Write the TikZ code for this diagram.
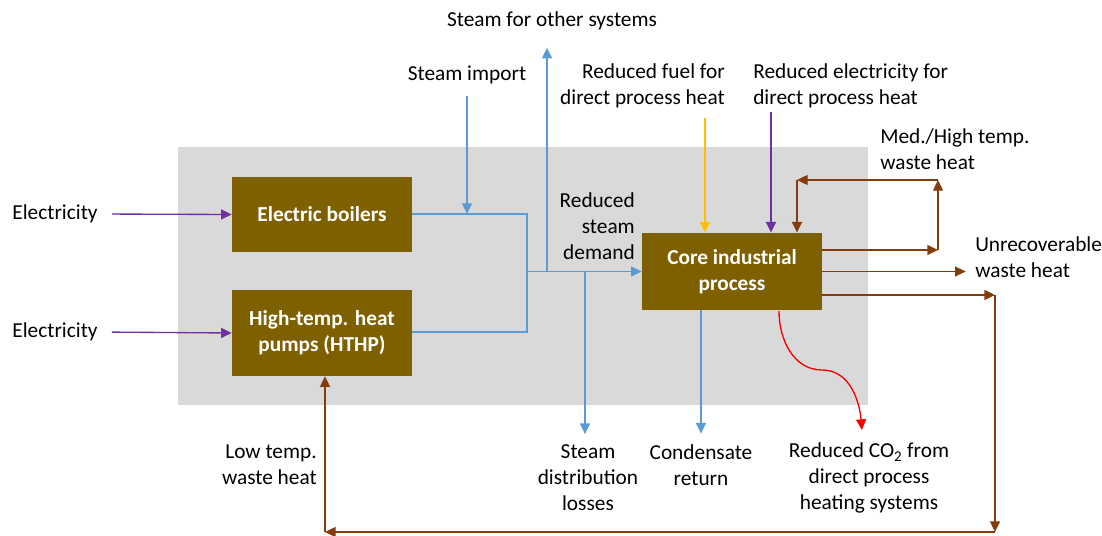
\documentclass[tikz,border=0pt]{standalone}
\usepackage{fontspec}
\setmainfont{Carlito}
\usetikzlibrary{arrows.meta}
\definecolor{boxbrown}{HTML}{7F6000}
\definecolor{bggrey}{HTML}{D9D9D9}
\definecolor{steamblue}{HTML}{5B9BD5}
\definecolor{elecpurple}{HTML}{7030A0}
\definecolor{wastebrown}{HTML}{843C0C}
\definecolor{fuelyellow}{HTML}{FFC000}
\tikzset{%
  >={Triangle[width=7.5pt,length=8pt]},
  % Specifications for style of nodes:
         base/.style = {rectangle, fill=boxbrown, text=white,
                        minimum width=135pt, align=center,
                        font=\bfseries},
          txt/.style = {inner sep=0pt, align=center},
  % Specifications for style of lines:
        steam/.style = {draw=steamblue, line width=1pt},
     elecline/.style = {draw=elecpurple, line width=1pt},
     fuelline/.style = {draw=fuelyellow, line width=1pt},
        waste/.style = {draw=wastebrown, line width=1pt},
      co2line/.style = {draw=red, line width=1pt},
}
\begin{document}
\fontsize{16}{19.5}\selectfont
\begin{tikzpicture}[x=0.75pt, y=-0.75pt]
  \useasboundingbox (0,0) rectangle (1102,535);
  \fill[bggrey] (178,147) rectangle (868,405);
  % Specification of nodes (position, etc.)
  \node (boil) [base, minimum height=56pt]   at (322,214.5) {Electric boilers};
  \node (hthp) [base, minimum height=64.5pt] at (322,333)   {High-temp. heat\\pumps (HTHP)};
  \node (core) [base, minimum height=58pt]   at (732,271.5) {Core industrial\\process};
  \node (elec1)   [txt] at (55,214) {Electricity};
  \node (elec2)   [txt] at (55,332) {Electricity};
  \node (other)   [txt] at (552,21) {Steam for other systems};
  \node (import)  [txt] at (467,75) {Steam import};
  \node (fuel)    [txt, align=right, anchor=east] at (725,86) {Reduced fuel for\\direct process heat};
  \node (elecred) [txt, align=left, anchor=west]  at (753,86) {Reduced electricity for\\direct process heat};
  \node (medhigh) [txt, align=left, anchor=west]  at (880,149) {Med./High temp.\\waste heat};
  \node (unrec)   [txt, align=left, anchor=west]  at (975,257) {Unrecoverable\\waste heat};
  \node (demand)  [txt, align=right, anchor=east] at (635,226) {Reduced\\steam\\demand};
  \node (losses)  [txt] at (588,478) {Steam\\distribution\\losses};
  \node (cond)    [txt] at (701,465) {Condensate\\return};
  \node (co2)     [txt] at (869,478) {Reduced CO\textsubscript{2} from\\direct process\\heating systems};
  \node (lowtemp) [txt, align=right, anchor=east] at (317,465) {Low temp.\\waste heat};
  % Corner points of the connectors
  \coordinate (j1) at (527,214);
  \coordinate (j2) at (527,332);
  \coordinate (mrg) at (527,271.5);
  \coordinate (toother) at (547,271.5);
  \coordinate (tolosses) at (585,271.5);
  \coordinate (fuelin) at (705,118);
  \coordinate (elecin) at (771,112);
  \coordinate (wh1) at (938,250);
  \coordinate (wh2) at (938,180);
  \coordinate (wh3) at (797,180);
  \coordinate (lw1) at (995,295);
  \coordinate (lw2) at (995,532);
  \coordinate (lw3) at (325,532);
  \coordinate (co2out) at (779,311);
  \coordinate (co2bend) at (822,370);
  \coordinate (co2in) at (862,430);
  % Specification of lines between nodes specified above
  \draw[elecline,->, shorten <=10.5pt] (elec1.east) -- (boil.west);
  \draw[elecline,->, shorten <=10.5pt] (elec2.east) -- (hthp.west);
  \draw[steam] (boil.east |- j1) -- (j1) -- (j2) -- (hthp.east |- j2);
  \draw[steam,->] (mrg) -- (core.west);
  \draw[steam,->, shorten <=9pt] (import.south) -- (import.south |- j1);
  \draw[steam,->, shorten >=13pt] (toother) -- (toother |- other.south);
  \draw[steam,->, shorten >=8pt] (tolosses) -- (losses.north -| tolosses);
  \draw[steam,->, shorten >=8pt] (core.south -| cond.north) -- (cond.north);
  \draw[fuelline,->] (fuelin) -- (fuelin |- core.north);
  \draw[elecline,->] (elecin) -- (elecin |- core.north);
  \draw[waste,->] (core.east |- wh1) -- (wh1);
  \draw[waste,->] (wh1) -- (wh2);
  \draw[waste,->] (wh2) -- (wh3);
  \draw[waste,->] (wh3) -- (wh3 |- core.north);
  \draw[waste,->, shorten >=7pt] (core.east) -- (unrec.west |- core.east);
  \draw[waste,->] (core.east |- lw1) -- (lw1);
  \draw[waste,->] (lw1) -- (lw2);
  \draw[waste,->] (lw2) -- (lw3);
  \draw[waste,->] (lw3) -- (lw3 |- hthp.south);
  \draw[co2line,->] (co2out) to[out=-90, in=180] (co2bend) to[out=0, in=95] (co2in);
\end{tikzpicture}
\end{document}
